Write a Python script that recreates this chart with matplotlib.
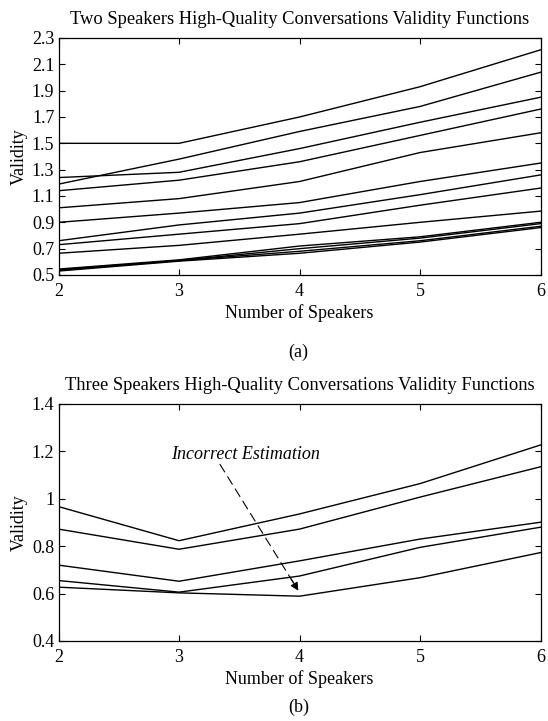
import matplotlib
matplotlib.use("Agg")
import matplotlib.pyplot as plt

plt.rcParams["font.family"] = ["Liberation Serif", "DejaVu Serif"]

speakers = [2, 3, 4, 5, 6]

# validity curves, two-speaker conversations (one row per curve)
two_speaker_validity = [
    [1.50, 1.50, 1.70, 1.93, 2.21],
    [1.19, 1.38, 1.59, 1.78, 2.04],
    [1.24, 1.28, 1.46, 1.66, 1.85],
    [1.14, 1.22, 1.36, 1.56, 1.76],
    [1.01, 1.08, 1.21, 1.43, 1.58],
    [0.90, 0.97, 1.05, 1.21, 1.35],
    [0.76, 0.88, 0.97, 1.11, 1.26],
    [0.73, 0.81, 0.89, 1.03, 1.16],
    [0.665, 0.725, 0.81, 0.90, 0.985],
    [0.545, 0.615, 0.72, 0.79, 0.90],
    [0.54, 0.61, 0.70, 0.78, 0.89],
    [0.535, 0.61, 0.68, 0.76, 0.87],
    [0.53, 0.605, 0.665, 0.75, 0.86],
]

# validity curves, three-speaker conversations
three_speaker_validity = [
    [0.967, 0.823, 0.936, 1.064, 1.227],
    [0.872, 0.787, 0.872, 1.007, 1.135],
    [0.720, 0.652, 0.738, 0.830, 0.901],
    [0.655, 0.606, 0.674, 0.795, 0.880],
    [0.627, 0.603, 0.589, 0.667, 0.773],
]

top_yticks = [0.5, 0.7, 0.9, 1.1, 1.3, 1.5, 1.7, 1.9, 2.1, 2.3]
top_yticklabels = ["0.5", "0.7", "0.9", "1.1", "1.3", "1.5", "1.7", "1.9", "2.1", "2.3"]
bot_yticks = [0.4, 0.6, 0.8, 1.0, 1.2, 1.4]
bot_yticklabels = ["0.4", "0.6", "0.8", "1", "1.2", "1.4"]

note_text = "Incorrect Estimation"
note_xy = (2.93, 1.185)
arrow_tail = (3.34, 1.145)
arrow_tip = (3.99, 0.612)

fs = 13


def style_axes(ax, yticks, yticklabels, ylim):
    ax.set_xlim(2, 6)
    ax.set_ylim(*ylim)
    ax.set_xticks(speakers)
    ax.set_xticklabels([str(s) for s in speakers])
    ax.set_yticks(yticks)
    ax.set_yticklabels(yticklabels)
    ax.tick_params(direction="in", top=True, right=True, length=4,
                   width=0.8, labelsize=fs)
    ax.tick_params(axis="x", pad=5.5)
    ax.tick_params(axis="y", pad=3)
    for sp in ax.spines.values():
        sp.set_linewidth(0.9)
    ax.set_xlabel("Number of Speakers", fontsize=fs, labelpad=3)
    ax.set_ylabel("Validity", fontsize=fs, labelpad=3)


fig = plt.figure(figsize=(5.48, 7.21), dpi=100)

ax1 = fig.add_axes([0.1068, 0.6186, 0.8796, 0.3287])
for row in two_speaker_validity:
    ax1.plot(speakers, row, color="black", lw=1.0)
style_axes(ax1, top_yticks, top_yticklabels, (0.5, 2.3))
ax1.set_title("Two Speakers High-Quality Conversations Validity Functions",
              fontsize=13.3, pad=10)
fig.text(0.545, 1 - 352 / 721, "(a)", ha="center", va="center", fontsize=fs)

ax2 = fig.add_axes([0.1068, 0.111, 0.8796, 0.3287])
for row in three_speaker_validity:
    ax2.plot(speakers, row, color="black", lw=1.0)
style_axes(ax2, bot_yticks, bot_yticklabels, (0.4, 1.4))
ax2.set_title("Three Speakers High-Quality Conversations Validity Functions",
              fontsize=13.3, pad=10)
fig.text(0.545, 1 - 707 / 721, "(b)", ha="center", va="center", fontsize=fs)

ax2.text(*note_xy, note_text, fontsize=13, style="italic", va="center")
ax2.annotate("", xy=arrow_tip, xytext=arrow_tail,
             arrowprops=dict(arrowstyle="-", lw=0.8, color="black",
                             linestyle=(0, (8, 5)), shrinkA=0, shrinkB=6))
ax2.annotate("", xy=arrow_tip,
             xytext=(arrow_tip[0] - 0.06, arrow_tip[1] + 0.05),
             arrowprops=dict(arrowstyle="-|>", lw=0.8, color="black",
                             mutation_scale=12, shrinkA=0, shrinkB=0))

fig.savefig("out.png", dpi=100)
